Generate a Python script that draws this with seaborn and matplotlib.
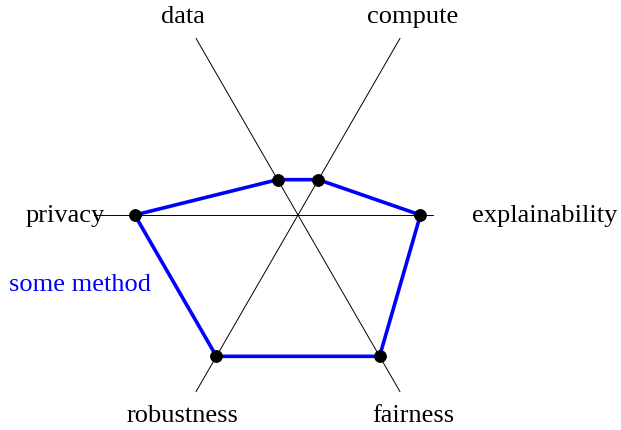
import numpy as np
import pandas as pd
import seaborn as sns
import matplotlib
matplotlib.use("Agg")
import matplotlib.pyplot as plt

# axes of the radar, counter-clockwise from the right
axes_names = ["explainability", "compute", "data", "privacy", "robustness", "fairness"]
angles_deg = [0, 60, 120, 180, 240, 300]
scores = [3, 1, 1, 4, 4, 4]
method_name = "some method"

sns.set_theme(style="white")
plt.rcParams["font.family"] = ["Liberation Serif", "DejaVu Serif"]

ang = np.deg2rad(angles_deg)
df = pd.DataFrame({"axis": axes_names, "score": scores, "angle": ang})
df["x"] = df["score"] * np.cos(df["angle"])
df["y"] = df["score"] * np.sin(df["angle"])
closed = pd.concat([df, df.iloc[:1]], ignore_index=True)

fig = plt.figure(figsize=(6.21, 4.31), dpi=100)
ax = fig.add_axes([0, 0, 1, 1])

# spokes (length of each half-axis, in score units)
spoke_len = [3.3, 5.0, 5.0, 5.0, 5.0, 5.0]
for a, L in zip(ang, spoke_len):
    ax.plot([0, L * np.cos(a)], [0, L * np.sin(a)], color="black", lw=0.7, zorder=1)

sns.lineplot(data=closed, x="x", y="y", sort=False, estimator=None,
             color="blue", lw=2.6, ax=ax, zorder=2)
sns.scatterplot(data=df, x="x", y="y", color="black", s=72, edgecolor="black",
                ax=ax, zorder=3)

label_r = [7.84, 5.62, 5.62, 5.7, 5.65, 5.65]
for name, a, r in zip(axes_names, ang, label_r):
    ha = "right" if name == "explainability" else "center"
    ax.text(r * np.cos(a), r * np.sin(a), name, ha=ha, va="center",
            fontsize=19, color="black")

ax.text(-5.34, -1.69, method_name, ha="center", va="center", fontsize=19, color="blue")

scale = 40.8
cx, cy = 298, 216
ax.set_xlim(-cx / scale, (621 - cx) / scale)
ax.set_ylim(-(431 - cy) / scale, cy / scale)
ax.set_xlabel("")
ax.set_ylabel("")
ax.axis("off")

fig.savefig("out.png", dpi=100)
